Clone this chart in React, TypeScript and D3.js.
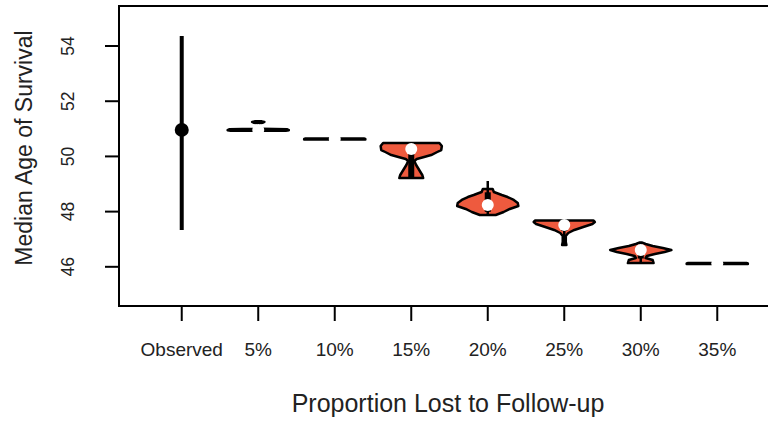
import React from "react";
import * as d3 from "d3";

// categories on the x axis
const categories = ["Observed", "5%", "10%", "15%", "20%", "25%", "30%", "35%"];
const yTicks = [46, 48, 50, 52, 54];

// observed: median with its interval
const observedLow = 47.33;
const observedHigh = 54.36;
const observedMedian = 50.96;

// simulated scenarios (5% .. 35%)
const medians = [50.96, 50.63, 50.27, 48.24, 47.515, 46.61, 46.12];
const boxLow = [50.94, 50.62, 49.25, 47.99, 47.3, 46.3, 46.11];
const boxHigh = [50.98, 50.64, 50.3, 48.7, 47.6, 46.75, 46.13];
const whiskerLow = [50.93, 50.61, 49.22, 47.88, 46.79, 46.14, 46.1];
const whiskerHigh = [51.25, 50.65, 50.49, 49.11, 47.68, 46.88, 46.14];

// violin outlines: [value, relative density]
const violin05: [number, number][] = [
  [50.93, 0.9], [50.95, 1.0], [50.98, 0.95], [51.0, 0.1], [51.05, 0.0],
  [51.2, 0.0], [51.22, 0.15], [51.25, 0.2], [51.27, 0.12],
];
const violin10: [number, number][] = [[50.61, 1.0], [50.63, 1.0], [50.65, 0.95]];
const violin15: [number, number][] = [
  [49.218, 0.39], [49.327, 0.36], [49.508, 0.26], [49.689, 0.16], [49.834, 0.1],
  [49.906, 0.18], [49.978, 0.42], [50.051, 0.65], [50.16, 0.85], [50.232, 0.98],
  [50.377, 1.0], [50.486, 0.92],
];
const violin20: [number, number][] = [
  [47.877, 0.26], [47.986, 0.52], [48.095, 0.72], [48.203, 1.0], [48.312, 0.98],
  [48.421, 0.85], [48.529, 0.65], [48.601, 0.46], [48.71, 0.2], [48.819, 0.16],
];
const violin25: [number, number][] = [
  [46.79, 0.07], [46.899, 0.05], [47.116, 0.05], [47.225, 0.13], [47.334, 0.33],
  [47.443, 0.62], [47.551, 0.92], [47.624, 1.0], [47.678, 0.95],
];
const violin30: [number, number][] = [
  [46.138, 0.42], [46.247, 0.39], [46.319, 0.16], [46.392, 0.2], [46.464, 0.46],
  [46.537, 0.78], [46.609, 1.0], [46.682, 0.72], [46.754, 0.39], [46.826, 0.16],
  [46.881, 0.03],
];
const violin35: [number, number][] = [[46.1, 1.0], [46.12, 1.0], [46.14, 0.95]];
const violins = [violin05, violin10, violin15, violin20, violin25, violin30, violin35];

const FILL = "#ee5a3e";
const FONT = "'Liberation Sans', Arial, Helvetica, sans-serif";

export default function App() {
  const W = 768, H = 424;
  const plot = { left: 119, top: 6, right: 780, bottom: 306 };
  const x = d3.scaleLinear().domain([0.18, 8.82]).range([plot.left, plot.right]);
  const y = d3.scaleLinear().domain([44.58, 55.45]).range([plot.bottom, plot.top]);
  const half = 0.4;

  return (
    <svg width={W} height={H} style={{ position: "absolute", left: 0, top: 0, background: "#fff" }}>
      <rect x={plot.left} y={plot.top} width={plot.right - plot.left} height={plot.bottom - plot.top}
        fill="none" stroke="#000" strokeWidth={2} />

      {/* observed */}
      <line x1={x(1)} x2={x(1)} y1={y(observedLow)} y2={y(observedHigh)} stroke="#000" strokeWidth={4} />
      <circle cx={x(1)} cy={y(observedMedian)} r={7} fill="#000" />

      {violins.map((prof, i) => {
        const pos = i + 2;
        const area = d3.area<[number, number]>()
          .y((d) => y(d[0]))
          .x0((d) => x(pos - half * d[1]))
          .x1((d) => x(pos + half * d[1]));
        return (
          <g key={i}>
            <path d={area(prof) || ""} fill={FILL} stroke="#000" strokeWidth={2.5} strokeLinejoin="round" />
            <line x1={x(pos)} x2={x(pos)} y1={y(whiskerLow[i])} y2={y(whiskerHigh[i])} stroke="#000" strokeWidth={2.5} />
            <rect x={x(pos) - 3} width={6} y={y(boxHigh[i])} height={y(boxLow[i]) - y(boxHigh[i])} fill="#000" />
            <circle cx={x(pos)} cy={y(medians[i])} r={6} fill="#fff" />
          </g>
        );
      })}

      {/* y axis */}
      {yTicks.map((t) => (
        <g key={t}>
          <line x1={105} x2={plot.left} y1={y(t)} y2={y(t)} stroke="#000" strokeWidth={2} />
          <text transform={`translate(74,${y(t)}) rotate(-90)`} textAnchor="middle"
            fontFamily={FONT} fontSize={17.5} fill="#222">{t}</text>
        </g>
      ))}
      <text transform="translate(32,148) rotate(-90)" textAnchor="middle" fontFamily={FONT}
        fontSize={23} fill="#222">Median Age of Survival</text>

      {/* x axis */}
      {categories.map((c, i) => (
        <g key={c}>
          <line x1={x(i + 1)} x2={x(i + 1)} y1={plot.bottom} y2={321} stroke="#000" strokeWidth={2} />
          <text x={x(i + 1)} y={356} textAnchor="middle" fontFamily={FONT} fontSize={19} fill="#222">{c}</text>
        </g>
      ))}
      <text x={448} y={412} textAnchor="middle" fontFamily={FONT} fontSize={25} fill="#222">
        Proportion Lost to Follow-up
      </text>
    </svg>
  );
}
